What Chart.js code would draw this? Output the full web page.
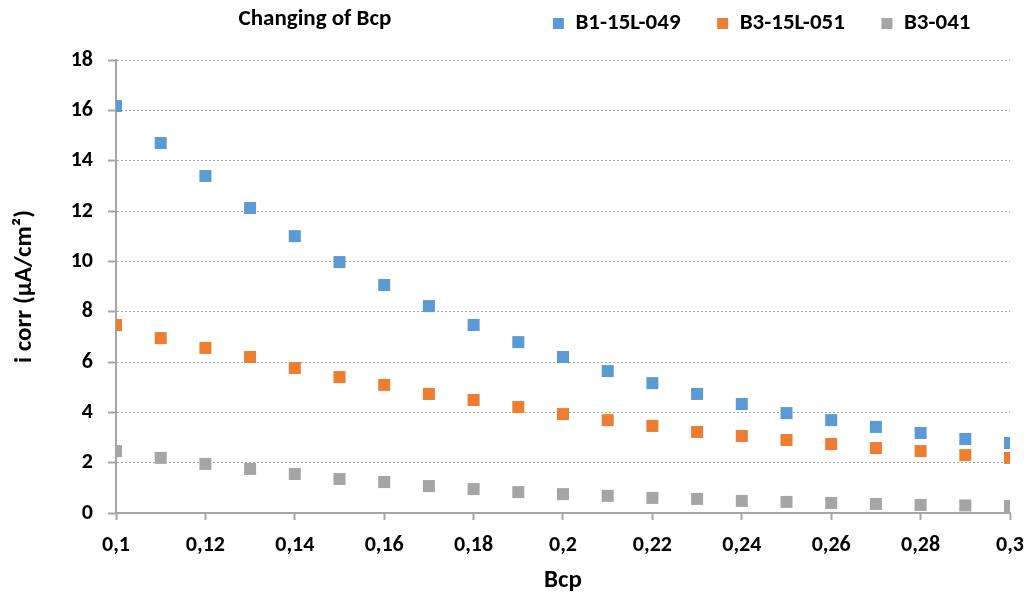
<!DOCTYPE html>
<html>
<head>
<meta charset="utf-8">
<script src="https://cdn.jsdelivr.net/npm/chart.js@4/dist/chart.umd.min.js"></script>
<style>
    html, body { margin: 0; padding: 0; background: #fff; }
    #wrap { width: 1027px; height: 596px; position: relative; }
</style>
</head>
<body>
<div id="wrap"><canvas id="bcpChart"></canvas></div>
<script>
/* ================= DATA ================= */
const bcpValues = [0.10, 0.11, 0.12, 0.13, 0.14, 0.15, 0.16, 0.17, 0.18, 0.19, 0.20,
    0.21, 0.22, 0.23, 0.24, 0.25, 0.26, 0.27, 0.28, 0.29, 0.30];

const seriesNames = ["B1-15L-049", "B3-15L-051", "B3-041"];

const b1_15L_049 = [16.17, 14.70, 13.39, 12.12, 11.00, 9.97, 9.06, 8.22, 7.47, 6.79, 6.20,
    5.64, 5.16, 4.73, 4.33, 3.97, 3.69, 3.42, 3.18, 2.94, 2.78];

const b3_15L_051 = [7.47, 6.95, 6.56, 6.20, 5.76, 5.40, 5.09, 4.73, 4.49, 4.21, 3.93,
    3.69, 3.46, 3.22, 3.06, 2.90, 2.74, 2.58, 2.46, 2.30, 2.19];

const b3_041 = [2.46, 2.19, 1.95, 1.75, 1.55, 1.35, 1.23, 1.07, 0.95, 0.83, 0.75,
    0.68, 0.60, 0.56, 0.48, 0.44, 0.40, 0.36, 0.32, 0.30, 0.28];

const seriesColors = ["#5B9BD5", "#ED7D31", "#A5A5A5"];

const chartTitle = "Changing of Bcp";
const xTitle = "Bcp";
const yTitle = "i corr (µA/cm²)";

/* ================= HELPERS ================= */
const FONT = 'Carlito, Calibri, "Liberation Sans Narrow", sans-serif';

function toPoints(ys) {
    return bcpValues.map((x, i) => ({ x: x, y: ys[i] }));
}

function commaLabel(v) {
    return String(Math.round(v * 100) / 100).replace(".", ",");
}

// title drawn by hand so it can sit left of the legend on the same line
const titlePlugin = {
    id: "sideTitle",
    beforeInit(chart) {
        // leave room between legend row and plot area
        const fit = chart.legend.fit;
        chart.legend.fit = function () {
            fit.call(this);
            this.height += 15;
        };
    },
    afterDraw(chart) {
        const ctx = chart.ctx;
        ctx.save();
        ctx.font = "bold 23px " + FONT;
        ctx.fillStyle = "#000";
        ctx.textAlign = "center";
        ctx.textBaseline = "middle";
        ctx.fillText(chartTitle, 315, 19);
        ctx.restore();
    }
};

// wider gap after each legend entry
function legendLabels(chart) {
    const items = Chart.defaults.plugins.legend.labels.generateLabels(chart);
    items.forEach((it, i) => {
        it.text = it.text + (i < items.length - 1 ? "\u2003\u2009" : "\u2003\u2009\u200A");
    });
    return items;
}

/* ================= CHART ================= */
const datasets = [b1_15L_049, b3_15L_051, b3_041].map((ys, i) => ({
    label: seriesNames[i],
    data: toPoints(ys),
    backgroundColor: seriesColors[i],
    borderColor: seriesColors[i],
    borderWidth: 0,
    pointStyle: "rect",
    pointRadius: 8.5,
    pointHoverRadius: 8.5,
    showLine: false
}));

new Chart(document.getElementById("bcpChart"), {
    type: "scatter",
    data: { datasets },
    plugins: [titlePlugin],
    options: {
        responsive: true,
        maintainAspectRatio: false,
        animation: false,
        layout: { padding: { top: 3, right: 17, bottom: 0, left: 10 } },
        plugins: {
            tooltip: { enabled: false },
            legend: {
                position: "top",
                align: "end",
                labels: {
                    boxWidth: 11,
                    boxHeight: 11,
                    padding: 9,
                    color: "#000",
                    font: { family: FONT, size: 23, weight: "bold" },
                    generateLabels: legendLabels
                }
            }
        },
        scales: {
            x: {
                type: "linear",
                min: 0.1,
                max: 0.3,
                afterFit: s => {
                    s.height = 83;
                    s.paddingRight = 0;
                },
                ticks: {
                    stepSize: 0.02,
                    color: "#000",
                    padding: 12,
                    font: { family: FONT, size: 22, weight: "bold" },
                    callback: v => commaLabel(v),
                    maxRotation: 0,
                    autoSkip: false
                },
                grid: {
                    drawOnChartArea: false,
                    drawTicks: true,
                    tickLength: 7,
                    color: "#A6A6A6",
                    tickWidth: 2
                },
                border: { color: "#A6A6A6", width: 2 },
                title: {
                    display: true,
                    text: xTitle,
                    color: "#000",
                    padding: { top: 8, bottom: 0 },
                    font: { family: FONT, size: 25, weight: "bold" }
                }
            },
            y: {
                min: 0,
                max: 18,
                afterFit: s => { s.width = 106; },
                ticks: {
                    stepSize: 2,
                    color: "#000",
                    padding: 15,
                    font: { family: FONT, size: 22, weight: "bold" }
                },
                grid: {
                    color: ctx => (ctx.tick && ctx.tick.value === 0 ? "rgba(0,0,0,0)" : "#A6A6A6"),
                    tickBorderDash: [],
                    tickColor: "#A6A6A6",
                    tickLength: 8,
                    tickWidth: 2,
                    lineWidth: 1
                },
                border: { color: "#A6A6A6", width: 2, dash: [2, 2] },
                title: {
                    display: true,
                    text: yTitle,
                    color: "#000",
                    padding: { top: 0, bottom: 0 },
                    font: { family: FONT, size: 25, weight: "bold" }
                }
            }
        }
    }
});
</script>
</body>
</html>
